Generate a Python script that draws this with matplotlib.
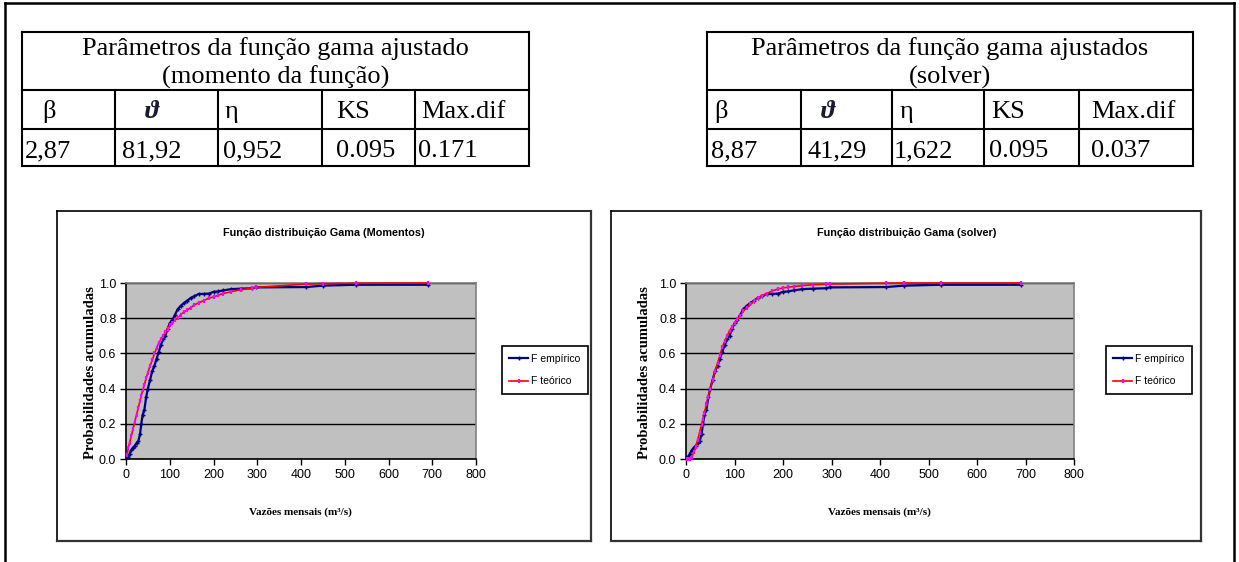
import matplotlib
matplotlib.use('Agg')
import matplotlib.pyplot as plt
from matplotlib.lines import Line2D

W, H = 1239, 562
fig = plt.figure(figsize=(W / 100, H / 100), dpi=100)


def fx(px):
    return px / W


def fy(py):
    return 1 - py / H


# ---------------- data ----------------
vazoes = [2, 5, 8, 12, 16, 20, 24, 28, 32, 35, 38, 42, 46, 50, 55, 60, 65, 70,
          75, 80, 85, 90, 95, 100, 106, 112, 118, 125, 132, 140, 148, 156, 166,
          178, 190, 200, 210, 222, 240, 262, 288, 296, 412, 450, 525, 690]
f_empirico = [0.01, 0.01, 0.03, 0.05, 0.065, 0.075, 0.09, 0.10, 0.14, 0.20,
              0.25, 0.28, 0.35, 0.40, 0.45, 0.50, 0.53, 0.57, 0.61, 0.65,
              0.68, 0.70, 0.74, 0.77, 0.79, 0.82, 0.85, 0.87, 0.885, 0.90,
              0.915, 0.925, 0.9375, 0.938, 0.94, 0.95, 0.952, 0.958, 0.965,
              0.968, 0.97, 0.975, 0.977, 0.985, 0.99, 0.99]
f_teorico_momentos = [0.02, 0.06, 0.09, 0.13, 0.17, 0.21, 0.25, 0.29, 0.33,
                      0.36, 0.39, 0.42, 0.46, 0.49, 0.53, 0.56, 0.60, 0.63,
                      0.66, 0.68, 0.70, 0.72, 0.74, 0.76, 0.77, 0.79, 0.80,
                      0.82, 0.835, 0.847, 0.86, 0.875, 0.888, 0.90, 0.915,
                      0.92, 0.93, 0.94, 0.95, 0.962, 0.97, 0.975, 0.994,
                      0.997, 0.999, 1.0]
f_teorico_solver = [0.0, 0.0, 0.002, 0.01, 0.04, 0.07, 0.108, 0.15, 0.195,
                    0.23, 0.26, 0.31, 0.355, 0.40, 0.45, 0.50, 0.544, 0.59,
                    0.635, 0.67, 0.70, 0.73, 0.75, 0.77, 0.795, 0.815, 0.84,
                    0.86, 0.88, 0.897, 0.913, 0.925, 0.94, 0.955, 0.966,
                    0.972, 0.976, 0.98, 0.985, 0.99, 0.993, 0.994, 0.999,
                    1.0, 1.0, 1.0]

x_ticks = [0, 100, 200, 300, 400, 500, 600, 700, 800]
y_ticks = [0.0, 0.2, 0.4, 0.6, 0.8, 1.0]

table_headers = ['β', 'ϑ', 'η', 'KS', 'Max.dif']
table1_title = ['Parâmetros da função gama ajustado', '(momento da função)']
table1_values = ['2,87', '81,92', '0,952', '0.095', '0.171']
table2_title = ['Parâmetros da função gama ajustados', '(solver)']
table2_values = ['8,87', '41,29', '1,622', '0.095', '0.037']

chart_titles = ['Função distribuição Gama (Momentos)', 'Função distribuição Gama (solver)']
x_label = 'Vazões mensais (m³/s)'
y_label = 'Probabilidades acumuladas'
legend_labels = ['F empírico', 'F teórico']

SERIF = ['Liberation Serif', 'DejaVu Serif']
SANS = ['Liberation Sans', 'DejaVu Sans']


def fline(x0, y0, x1, y1, lw=1.0, color='black'):
    fig.add_artist(Line2D([fx(x0), fx(x1)], [fy(y0), fy(y1)],
                          transform=fig.transFigure, color=color, lw=lw,
                          solid_capstyle='projecting'))


# outer border (left, top, right)
fline(5, 561, 5, 3, lw=1.8)
fline(5, 3, 1234, 3, lw=1.8)
fline(1234, 3, 1234, 561, lw=1.8)


def draw_table(cols, rows, title, values, head_off, val_off):
    left, right = cols[0], cols[-1]
    top, mid1, mid2, bottom = rows
    lw = 1.5
    for y in rows:
        fline(left, y, right, y, lw=lw)
    fline(left, top, left, bottom, lw=lw)
    fline(right, top, right, bottom, lw=lw)
    for c in cols[1:-1]:
        fline(c, mid1, c, bottom, lw=lw)
    cx = (left + right) / 2
    fig.text(fx(cx), fy(top + 23), title[0], ha='center', va='baseline',
             family=SERIF, fontsize=19)
    fig.text(fx(cx), fy(top + 52), title[1], ha='center', va='baseline',
             family=SERIF, fontsize=19)
    for i, h in enumerate(table_headers):
        if h == 'ϑ':
            fig.text(fx(cols[i] + head_off[i]), fy(mid2 - 11), h, ha='left',
                     va='baseline', family=SERIF, fontsize=19, fontstyle='italic',
                     fontweight='bold', color='#1a1a33')
        else:
            fig.text(fx(cols[i] + head_off[i]), fy(mid2 - 11), h, ha='left',
                     va='baseline', family=SERIF, fontsize=19)
    for i, v in enumerate(values):
        fig.text(fx(cols[i] + val_off[i]), fy(bottom - 9), v, ha='left',
                 va='baseline', family=SERIF, fontsize=19)


draw_table([22, 115, 218, 322, 415, 529], [32, 90, 129, 166], table1_title,
           table1_values, [20, 30, 7, 14, 6], [3, 7, 5, 14, 3])
draw_table([707, 801, 892, 984, 1079, 1193], [32, 90, 129, 166], table2_title,
           table2_values, [7, 20, 8, 7, 12], [4, 7, 2, 5, 12])


def draw_chart(frame, plot, title, theo, legend_center, title_x, xlabel_x, ylabel_x):
    fl, ft, fr, fb = frame
    fline(fl, ft, fr, ft, lw=1.2)
    fline(fl, ft, fl, fb, lw=1.2)
    fline(fr, ft, fr, fb, lw=1.6, color='#333333')
    fline(fl, fb, fr, fb, lw=1.6, color='#333333')
    pl, pt, pr, pb = plot
    ax = fig.add_axes([fx(pl), fy(pb), fx(pr) - fx(pl), fy(pt) - fy(pb)])
    ax.set_facecolor('#C0C0C0')
    ax.set_xlim(0, 800)
    ax.set_ylim(0, 1.0)
    ax.set_xticks(x_ticks)
    ax.set_yticks(y_ticks)
    ax.set_xticklabels([str(t) for t in x_ticks], family=SANS, fontsize=9)
    ax.set_yticklabels(['%.1f' % t for t in y_ticks], family=SANS, fontsize=9)
    ax.tick_params(direction='out', length=4, width=1, color='black', pad=3)
    ax.set_axisbelow(True)
    ax.yaxis.grid(True, color='black', lw=1)
    for s in ['top', 'right']:
        ax.spines[s].set_color('#808080')
        ax.spines[s].set_linewidth(1.2)
    for s in ['left', 'bottom']:
        ax.spines[s].set_color('black')
        ax.spines[s].set_linewidth(1.2)
    l1, = ax.plot(vazoes, f_empirico, color='#000080', lw=1.6, marker='+',
                  ms=3.5, mew=1.0, mec='#000080', clip_on=False, zorder=3)
    l2, = ax.plot(vazoes, theo, color='#FF0000', lw=1.2, marker='|',
                  ms=3.5, mew=1.6, mec='#FF00FF', clip_on=False, zorder=4)
    leg = ax.legend([l1, l2], legend_labels, loc='center',
                    bbox_to_anchor=(fx(legend_center[0]), fy(legend_center[1])),
                    bbox_transform=fig.transFigure, frameon=True, fancybox=False,
                    edgecolor='black', framealpha=1, handlelength=1.8,
                    handletextpad=0.3, borderpad=0.7, labelspacing=1.2,
                    borderaxespad=0, prop={'family': SANS, 'size': 7.5})
    leg.get_frame().set_linewidth(1.2)
    fig.text(fx(title_x), fy(233), title, ha='center', va='center',
             family=SANS, fontweight='bold', fontsize=7.8)
    fig.text(fx(xlabel_x), fy(512), x_label, ha='center', va='center',
             family=SERIF, fontweight='bold', fontsize=8)
    fig.text(fx(ylabel_x), fy((pt + pb) / 2 + 2), y_label, ha='center', va='center',
             rotation=90, family=SERIF, fontweight='bold', fontsize=10.5)
    return ax


draw_chart((57, 211, 591, 541), (126, 283, 476, 459), chart_titles[0],
           f_teorico_momentos, (545, 370), 324, 300, 91)
draw_chart((611, 211, 1201, 541), (686, 283, 1074, 459), chart_titles[1],
           f_teorico_solver, (1149, 370), 907, 879, 645)

fig.savefig('out.png', dpi=100)
